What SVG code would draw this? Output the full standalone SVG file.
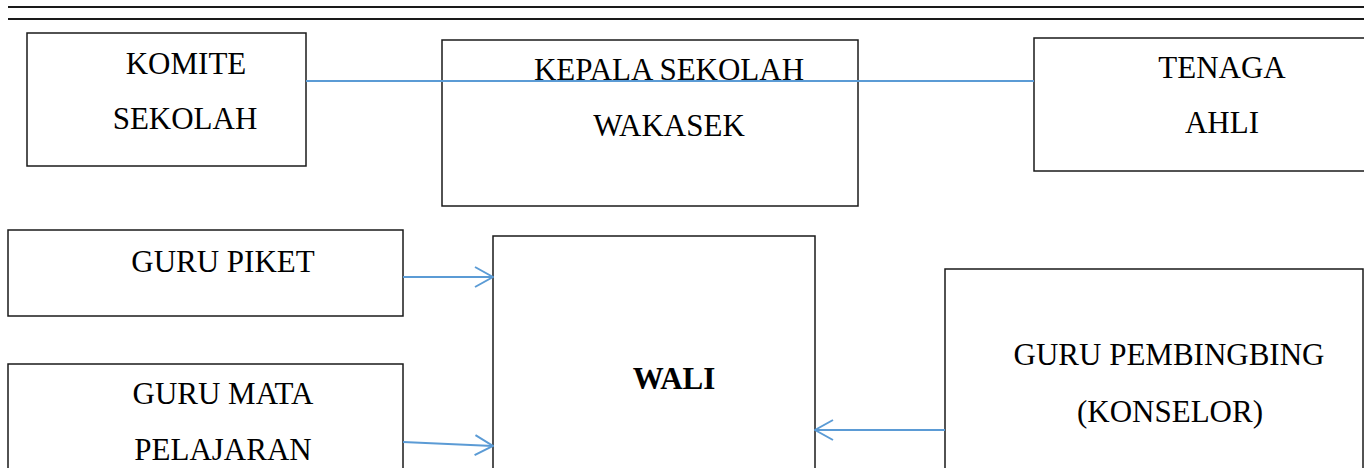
<svg xmlns="http://www.w3.org/2000/svg" width="1364" height="468" viewBox="0 0 1364 468">
  <style>
    .box { fill: #ffffff; stroke: #1a1a1a; stroke-width: 1.5; }
    .rule { stroke: #1a1a1a; stroke-width: 2; }
    .lbl { font-family: "Liberation Serif", "Times New Roman", serif; font-size: 31px; fill: #000000; text-anchor: middle; }
    .bold { font-weight: bold; }
    .conn { fill: none; stroke: #5b9bd5; stroke-width: 2; }
  </style>
  <defs>
    <marker id="open-arrow" viewBox="0 0 20 24" refX="19" refY="12" markerWidth="20" markerHeight="24" markerUnits="userSpaceOnUse" orient="auto">
      <path d="M1,2 L19,12 L1,22" fill="none" stroke="#5b9bd5" stroke-width="2"/>
    </marker>
  </defs>
  <rect width="1364" height="468" fill="#ffffff"/>

  <!-- header rules -->
  <line class="rule" x1="8" y1="7" x2="1364" y2="7"/>
  <line class="rule" x1="8" y1="19" x2="1364" y2="19"/>

  <g id="komite-sekolah">
    <rect class="box" x="27" y="33" width="279" height="133"/>
    <text class="lbl" x="186" y="74">KOMITE</text>
    <text class="lbl" x="185" y="129">SEKOLAH</text>
  </g>

  <g id="kepala-sekolah">
    <rect class="box" x="442" y="40" width="416" height="166"/>
    <text class="lbl" x="669" y="80">KEPALA SEKOLAH</text>
    <text class="lbl" x="669" y="136">WAKASEK</text>
  </g>

  <g id="tenaga-ahli">
    <rect class="box" x="1034" y="38" width="340" height="133"/>
    <text class="lbl" x="1222" y="78">TENAGA</text>
    <text class="lbl" x="1222" y="133">AHLI</text>
  </g>

  <g id="guru-piket">
    <rect class="box" x="8" y="230" width="395" height="86"/>
    <text class="lbl" x="223" y="272">GURU PIKET</text>
  </g>

  <g id="guru-mata-pelajaran">
    <rect class="box" x="8" y="364" width="395" height="120"/>
    <text class="lbl" x="223" y="404">GURU MATA</text>
    <text class="lbl" x="223" y="460">PELAJARAN</text>
  </g>

  <g id="wali">
    <rect class="box" x="493" y="236" width="322" height="250"/>
    <text class="lbl bold" x="674" y="389">WALI</text>
  </g>

  <g id="guru-pembingbing">
    <rect class="box" x="945" y="269" width="418" height="220"/>
    <text class="lbl" x="1169" y="365">GURU PEMBINGBING</text>
    <text class="lbl" x="1170" y="422">(KONSELOR)</text>
  </g>

  <g id="connectors">
    <line class="conn" x1="306" y1="81" x2="1034" y2="81"/>
    <line class="conn" x1="403" y1="277" x2="493" y2="277" marker-end="url(#open-arrow)"/>
    <line class="conn" x1="403" y1="442" x2="493" y2="446" marker-end="url(#open-arrow)"/>
    <line class="conn" x1="945" y1="430" x2="815" y2="430" marker-end="url(#open-arrow)"/>
  </g>
</svg>
